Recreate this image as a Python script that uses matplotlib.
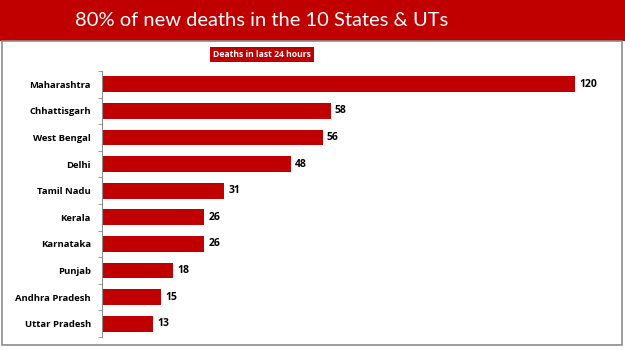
import matplotlib
matplotlib.use("Agg")
import matplotlib.pyplot as plt
from matplotlib.patches import Rectangle

states = ["Maharashtra", "Chhattisgarh", "West Bengal", "Delhi", "Tamil Nadu",
          "Kerala", "Karnataka", "Punjab", "Andhra Pradesh", "Uttar Pradesh"]
deaths = [120, 58, 56, 48, 31, 26, 26, 18, 15, 13]

title = "80% of new deaths in the 10 States & UTs"
subtitle = "Deaths in last 24 hours"
RED = "#C00000"

W, H = 625, 351
fig = plt.figure(figsize=(W / 100, H / 100), dpi=100)
fig.patch.set_facecolor("white")

# banner
fig.patches.append(Rectangle((0, 1 - 41 / H), 1, 41 / H, transform=fig.transFigure,
                             facecolor=RED, edgecolor="none", zorder=0))
# frame
fig.patches.append(Rectangle((2 / W, 6 / H), 620 / W, (H - 41 - 6) / H, transform=fig.transFigure,
                             facecolor="none", edgecolor="#8c8c8c", linewidth=1.2, zorder=0))

fig.text(262 / W, 1 - 21 / H, title, color="white", fontsize=14.5, family="Lato",
         ha="center", va="center")
fig.text(262 / W, 1 - 54.5 / H, subtitle, color="white", fontsize=6.2, family="Open Sans",
         fontweight="bold", ha="center", va="center",
         bbox=dict(boxstyle="square,pad=0.35", facecolor=RED, edgecolor="none"))

ax = fig.add_axes([102 / W, 1 - 337 / H, (622 - 102) / W, (337 - 71) / H])
y = list(range(len(states)))
ax.barh(y, deaths, height=0.6, color=RED)
ax.set_ylim(len(states) - 0.5, -0.5)
ax.set_xlim(0, 120 * 520 / 473)
ax.set_yticks(y)
ax.set_yticklabels(states, fontsize=6.8, family="Open Sans", fontweight="bold")
ax.set_yticks([i + 0.5 for i in range(-1, len(states))], minor=True)
ax.tick_params(axis="y", which="major", length=0, pad=8)
ax.tick_params(axis="y", which="minor", length=3, color="#8c8c8c")
ax.set_xticks([])
for s in ["top", "right", "bottom"]:
    ax.spines[s].set_visible(False)
ax.spines["left"].set_color("#8c8c8c")
for yi, v in zip(y, deaths):
    ax.text(v + 1.0, yi, str(v), va="center", ha="left", fontsize=7.5,
            family="Open Sans", fontweight="bold", color="black")

fig.savefig("out.png", dpi=100)
